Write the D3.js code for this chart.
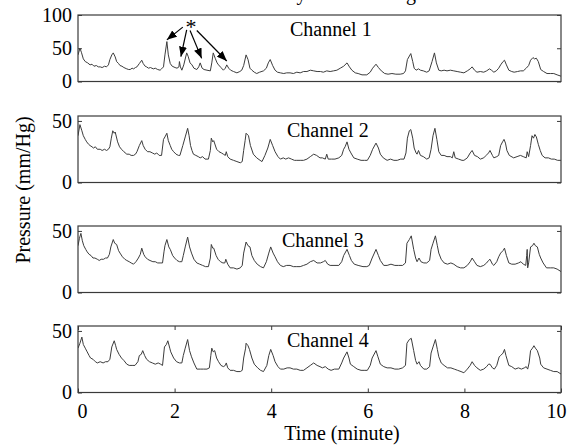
<!DOCTYPE html>
<html><head><meta charset="utf-8">
<script src="https://cdn.jsdelivr.net/npm/d3@7"></script>
<style>body{margin:0;background:#fff} svg{display:block}</style>
</head><body>
<svg id="chart" width="576" height="446"></svg>
<script>
// ---------------- data (time in minutes, pressure in mm/Hg) ----------------
const channelNames = ["Channel 1", "Channel 2", "Channel 3", "Channel 4"];

const channel1 = [[0.00,40],[0.04,50],[0.07,44],[0.11,34],[0.15,30],[0.20,28],[0.25,25],[0.29,26],[0.33,23],[0.38,24],[0.42,22],[0.46,22],[0.50,21],[0.55,23],[0.59,22],[0.63,25],[0.66,33],[0.70,40],[0.73,43],[0.77,37],[0.80,30],[0.84,27],[0.87,24],[0.91,23],[0.95,21],[1.01,19],[1.05,18],[1.08,18],[1.12,20],[1.15,19],[1.19,21],[1.22,22],[1.27,27],[1.32,32],[1.35,27],[1.39,23],[1.42,22],[1.46,20],[1.50,21],[1.56,19],[1.60,20],[1.65,18],[1.70,17],[1.73,19],[1.77,22],[1.80,40],[1.84,60],[1.87,40],[1.91,27],[1.95,23],[2.01,21],[2.05,20],[2.09,22],[2.10,30],[2.12,22],[2.15,17],[2.19,25],[2.25,43],[2.28,38],[2.32,28],[2.36,25],[2.40,20],[2.46,18],[2.50,22],[2.53,28],[2.57,20],[2.61,18],[2.67,17],[2.74,16],[2.77,28],[2.80,43],[2.84,35],[2.88,28],[2.91,25],[2.96,21],[3.01,17],[3.05,20],[3.08,25],[3.12,20],[3.16,17],[3.22,15],[3.29,13],[3.35,15],[3.39,17],[3.43,24],[3.48,40],[3.52,33],[3.56,20],[3.60,17],[3.65,14],[3.70,12],[3.76,14],[3.84,16],[3.90,20],[3.94,28],[3.98,33],[4.03,24],[4.08,17],[4.13,14],[4.19,13],[4.26,12],[4.32,13],[4.39,13],[4.46,12],[4.53,14],[4.60,13],[4.67,15],[4.74,15],[4.81,17],[4.88,16],[4.95,15],[5.02,15],[5.08,14],[5.15,16],[5.22,15],[5.29,16],[5.36,17],[5.43,20],[5.50,23],[5.57,28],[5.62,22],[5.67,17],[5.74,13],[5.80,12],[5.88,10],[5.98,10],[6.05,14],[6.10,20],[6.17,26],[6.22,21],[6.28,16],[6.35,12],[6.42,11],[6.50,12],[6.58,11],[6.67,11],[6.74,12],[6.78,16],[6.82,33],[6.89,42],[6.93,30],[6.96,20],[7.00,17],[7.05,19],[7.09,17],[7.15,16],[7.22,14],[7.27,16],[7.33,30],[7.38,43],[7.42,28],[7.47,17],[7.52,16],[7.58,17],[7.64,16],[7.71,17],[7.78,16],[7.85,15],[7.92,14],[7.99,13],[8.06,16],[8.12,19],[8.16,22],[8.21,17],[8.26,14],[8.33,15],[8.40,14],[8.46,16],[8.52,19],[8.56,17],[8.61,14],[8.66,16],[8.71,20],[8.75,25],[8.80,30],[8.83,32],[8.87,25],[8.92,17],[8.98,15],[9.03,14],[9.10,15],[9.16,16],[9.22,16],[9.28,20],[9.33,24],[9.37,32],[9.42,36],[9.45,34],[9.49,35],[9.53,30],[9.58,18],[9.64,15],[9.71,12],[9.78,12],[9.85,12],[9.92,10],[10.0,8]];

const channel2 = [[0.00,38],[0.04,47],[0.08,42],[0.11,38],[0.15,35],[0.18,33],[0.22,31],[0.25,30],[0.29,29],[0.32,28],[0.36,29],[0.40,27],[0.46,27],[0.50,26],[0.55,27],[0.59,26],[0.63,27],[0.66,29],[0.69,36],[0.72,42],[0.75,40],[0.77,41],[0.82,33],[0.86,29],[0.90,27],[0.95,25],[1.01,23],[1.06,23],[1.10,22],[1.15,22],[1.19,23],[1.22,25],[1.27,30],[1.32,34],[1.35,30],[1.39,27],[1.44,25],[1.49,25],[1.54,24],[1.59,23],[1.63,24],[1.68,22],[1.73,22],[1.77,35],[1.80,37],[1.84,40],[1.87,34],[1.91,30],[1.94,27],[1.98,25],[2.03,23],[2.08,22],[2.11,22],[2.17,30],[2.22,37],[2.27,44],[2.30,38],[2.33,30],[2.36,26],[2.39,23],[2.44,22],[2.49,21],[2.53,20],[2.58,21],[2.63,19],[2.70,19],[2.74,26],[2.76,36],[2.79,33],[2.81,34],[2.87,27],[2.92,25],[2.97,24],[3.01,23],[3.05,22],[3.07,25],[3.10,21],[3.15,19],[3.22,18],[3.29,17],[3.36,16],[3.40,17],[3.43,26],[3.46,34],[3.48,40],[3.53,38],[3.57,30],[3.63,23],[3.70,20],[3.77,18],[3.81,17],[3.87,22],[3.93,28],[3.98,35],[4.03,30],[4.08,25],[4.14,21],[4.19,19],[4.25,20],[4.30,19],[4.36,20],[4.42,19],[4.48,18],[4.53,18],[4.60,18],[4.67,18],[4.74,19],[4.81,21],[4.88,23],[4.94,22],[5.01,20],[5.06,20],[5.12,19],[5.15,23],[5.18,19],[5.25,19],[5.32,19],[5.40,20],[5.46,22],[5.50,27],[5.53,29],[5.57,33],[5.61,27],[5.65,24],[5.71,20],[5.78,19],[5.86,18],[5.93,18],[5.99,18],[6.05,22],[6.10,27],[6.17,32],[6.22,28],[6.26,23],[6.32,20],[6.40,18],[6.47,19],[6.54,18],[6.61,18],[6.68,19],[6.75,19],[6.79,24],[6.82,36],[6.86,42],[6.89,43],[6.93,36],[6.96,28],[7.00,24],[7.02,23],[7.05,26],[7.09,22],[7.15,21],[7.22,19],[7.27,20],[7.31,27],[7.35,38],[7.39,44],[7.43,35],[7.47,25],[7.52,22],[7.58,22],[7.64,21],[7.71,21],[7.75,20],[7.78,25],[7.81,20],[7.88,19],[7.95,18],[7.99,18],[8.06,20],[8.12,24],[8.16,26],[8.21,22],[8.27,21],[8.33,19],[8.40,20],[8.45,22],[8.50,24],[8.53,26],[8.58,22],[8.61,20],[8.67,21],[8.71,22],[8.75,30],[8.79,33],[8.82,35],[8.85,32],[8.88,26],[8.93,22],[9.02,20],[9.09,21],[9.16,22],[9.22,21],[9.28,20],[9.30,25],[9.33,21],[9.37,30],[9.40,38],[9.43,36],[9.46,39],[9.49,37],[9.53,31],[9.57,26],[9.61,22],[9.67,20],[9.74,20],[9.80,19],[9.86,19],[9.93,18],[10.0,18]];

const channel3 = [[0.00,38],[0.03,44],[0.06,48],[0.09,42],[0.12,38],[0.16,35],[0.19,33],[0.23,31],[0.27,30],[0.31,28],[0.35,28],[0.40,27],[0.44,26],[0.48,27],[0.53,27],[0.57,28],[0.61,28],[0.65,31],[0.68,37],[0.73,43],[0.76,40],[0.80,39],[0.84,34],[0.87,32],[0.92,29],[0.97,27],[1.01,26],[1.06,25],[1.10,24],[1.15,23],[1.20,25],[1.25,28],[1.29,31],[1.32,36],[1.36,31],[1.39,29],[1.44,27],[1.49,26],[1.55,25],[1.60,25],[1.65,24],[1.70,24],[1.75,24],[1.78,33],[1.80,38],[1.84,43],[1.88,37],[1.91,35],[1.96,30],[2.00,28],[2.05,26],[2.10,25],[2.15,25],[2.18,30],[2.22,37],[2.27,45],[2.31,37],[2.35,32],[2.40,27],[2.46,24],[2.52,23],[2.58,22],[2.64,21],[2.70,21],[2.74,28],[2.76,39],[2.79,36],[2.81,36],[2.86,30],[2.90,27],[2.95,25],[3.00,24],[3.04,24],[3.06,27],[3.10,23],[3.15,20],[3.22,20],[3.29,19],[3.36,20],[3.40,22],[3.43,32],[3.48,41],[3.52,38],[3.56,37],[3.60,30],[3.65,26],[3.71,23],[3.78,21],[3.84,20],[3.90,25],[3.95,32],[3.99,37],[4.04,32],[4.08,29],[4.13,25],[4.19,22],[4.25,21],[4.32,22],[4.39,22],[4.46,21],[4.53,21],[4.60,21],[4.67,22],[4.74,23],[4.81,25],[4.88,26],[4.95,24],[5.02,24],[5.08,25],[5.12,26],[5.17,23],[5.22,22],[5.30,22],[5.40,22],[5.46,25],[5.50,30],[5.57,35],[5.62,30],[5.66,26],[5.72,23],[5.80,22],[5.90,21],[5.98,21],[6.03,22],[6.09,28],[6.17,35],[6.22,30],[6.26,26],[6.33,22],[6.40,22],[6.48,23],[6.56,22],[6.64,22],[6.72,22],[6.78,24],[6.81,40],[6.86,43],[6.90,46],[6.95,35],[6.99,28],[7.02,25],[7.06,28],[7.10,25],[7.16,24],[7.22,24],[7.28,26],[7.31,35],[7.35,40],[7.40,46],[7.44,38],[7.47,32],[7.52,27],[7.58,24],[7.65,23],[7.72,24],[7.78,23],[7.85,21],[7.92,20],[7.99,20],[8.06,22],[8.12,25],[8.16,28],[8.21,25],[8.26,22],[8.33,21],[8.40,22],[8.46,24],[8.50,26],[8.53,27],[8.58,23],[8.61,22],[8.67,25],[8.71,29],[8.75,32],[8.80,34],[8.83,36],[8.87,30],[8.92,24],[8.98,23],[9.05,23],[9.12,24],[9.17,25],[9.22,23],[9.27,22],[9.29,30],[9.30,35],[9.31,20],[9.33,24],[9.37,37],[9.41,38],[9.44,40],[9.47,38],[9.51,37],[9.55,31],[9.58,28],[9.63,24],[9.70,20],[9.78,20],[9.85,20],[9.92,19],[10.0,17]];

const channel4 = [[0.00,36],[0.04,40],[0.08,45],[0.11,39],[0.15,36],[0.19,33],[0.23,30],[0.26,28],[0.31,27],[0.36,25],[0.40,24],[0.46,25],[0.52,24],[0.57,25],[0.62,25],[0.66,27],[0.70,37],[0.75,42],[0.78,38],[0.80,35],[0.85,31],[0.90,28],[0.95,26],[1.01,23],[1.06,22],[1.12,22],[1.18,22],[1.24,25],[1.27,30],[1.31,31],[1.34,34],[1.38,30],[1.42,27],[1.48,25],[1.54,24],[1.60,23],[1.66,24],[1.71,23],[1.75,22],[1.79,37],[1.83,39],[1.86,42],[1.90,36],[1.92,33],[1.98,28],[2.04,25],[2.10,24],[2.15,24],[2.18,30],[2.22,36],[2.27,43],[2.31,34],[2.35,29],[2.40,24],[2.46,19],[2.53,19],[2.60,19],[2.67,19],[2.72,20],[2.75,30],[2.77,36],[2.80,33],[2.83,34],[2.87,28],[2.91,25],[2.96,22],[3.01,21],[3.05,22],[3.07,24],[3.10,20],[3.15,18],[3.22,18],[3.29,17],[3.36,17],[3.40,18],[3.43,28],[3.47,36],[3.48,40],[3.52,38],[3.55,35],[3.60,28],[3.65,23],[3.72,20],[3.78,18],[3.84,17],[3.91,22],[3.95,30],[3.99,35],[4.04,30],[4.08,25],[4.14,21],[4.19,19],[4.26,19],[4.33,20],[4.39,20],[4.46,19],[4.53,19],[4.60,18],[4.67,18],[4.74,20],[4.81,22],[4.88,24],[4.95,22],[5.01,21],[5.06,20],[5.12,21],[5.18,19],[5.24,18],[5.31,19],[5.40,19],[5.46,24],[5.50,28],[5.57,33],[5.61,28],[5.64,23],[5.71,21],[5.78,19],[5.86,18],[5.94,18],[5.99,18],[6.05,22],[6.09,28],[6.17,34],[6.21,29],[6.26,23],[6.33,21],[6.40,20],[6.48,20],[6.56,19],[6.64,19],[6.72,20],[6.78,22],[6.81,40],[6.86,43],[6.90,44],[6.95,34],[6.99,26],[7.02,23],[7.06,25],[7.09,22],[7.16,19],[7.22,19],[7.28,21],[7.31,32],[7.35,37],[7.40,43],[7.44,35],[7.47,29],[7.52,24],[7.58,22],[7.65,20],[7.72,20],[7.79,19],[7.86,18],[7.93,17],[7.99,16],[8.06,19],[8.12,22],[8.16,25],[8.21,22],[8.26,20],[8.33,18],[8.40,19],[8.46,21],[8.50,23],[8.53,23],[8.58,20],[8.62,19],[8.67,22],[8.72,29],[8.75,30],[8.80,32],[8.83,35],[8.86,30],[8.92,22],[8.98,21],[9.05,19],[9.12,20],[9.18,19],[9.24,20],[9.28,21],[9.31,19],[9.34,24],[9.37,34],[9.41,36],[9.44,38],[9.47,36],[9.51,34],[9.56,28],[9.58,23],[9.64,20],[9.71,19],[9.78,18],[9.85,17],[9.92,17],[10.0,15]];

const yDomains = [[0, 100], [0, 54], [0, 54], [0, 54]];
const yTickValues = [[0, 50, 100], [0, 50], [0, 50], [0, 50]];
const xTickValues = [0, 2, 4, 6, 8, 10];
const xLabel = "Time (minute)";
const yLabel = "Pressure (mm/Hg)";
const titleText = "Colonic activity in the resting state";
// annotation on channel 1 (time, pressure)
const asteriskPos = [2.34, 71];
const arrowFrom = [[2.17, 81.8], [2.25, 77.7], [2.32, 76.7], [2.46, 76.7]];
const arrowTo   = [[1.84, 62.6], [2.13, 37.3], [2.56, 34.8], [3.08, 30.8]];

// ---------------- layout ----------------
const channels = [channel1, channel2, channel3, channel4];
const W = 576, H = 446;
const left = 78, right = 561;
const panelTops = [15, 116, 226, 326];
const panelH = 66.5;
const labelX = [290, 287, 282, 287];
const font = "'Liberation Serif','Times New Roman',serif";
const lineColor = "#3c3c3c";
const boxColor = "#3a3a3a";

const svg = d3.select("#chart");
svg.append("rect").attr("width", W).attr("height", H).attr("fill", "#fff");

const defs = svg.append("defs");
defs.append("marker").attr("id", "arrowhead")
  .attr("viewBox", "0 0 10 8").attr("refX", 10).attr("refY", 4)
  .attr("markerWidth", 10).attr("markerHeight", 8)
  .attr("markerUnits", "userSpaceOnUse").attr("orient", "auto")
  .append("path").attr("d", "M0,0 L10,4 L0,8 Z").attr("fill", "#000");

const x = d3.scaleLinear().domain([0, 10]).range([left, right]);

// title (mostly cropped above the top edge, as in the reference)
svg.append("text").attr("x", 318).attr("y", 0)
  .attr("text-anchor", "middle").attr("font-family", font).attr("font-size", 20)
  .text(titleText);

channels.forEach((data, i) => {
  const top = panelTops[i], bottom = top + panelH;
  const y = d3.scaleLinear().domain(yDomains[i]).range([bottom, top]);
  const g = svg.append("g");

  defs.append("clipPath").attr("id", "clip" + i)
    .append("rect").attr("x", left).attr("y", top).attr("width", right - left).attr("height", panelH);

  const line = d3.line().x(d => x(d[0])).y(d => y(d[1]));
  g.append("path").datum(data).attr("d", line)
    .attr("fill", "none").attr("stroke", lineColor).attr("stroke-width", 1)
    .attr("stroke-linejoin", "round").attr("clip-path", `url(#clip${i})`);

  // y axes (inward ticks)
  const yl = g.append("g").attr("transform", `translate(${left},0)`)
    .call(d3.axisLeft(y).tickValues(yTickValues[i]).tickSize(-4).tickPadding(6));
  const yr = g.append("g").attr("transform", `translate(${right},0)`)
    .call(d3.axisRight(y).tickValues(yTickValues[i]).tickSize(-4).tickFormat(""));
  [yl, yr].forEach(a => {
    a.select(".domain").remove();
    a.selectAll("line").attr("stroke", boxColor);
    a.selectAll("text").attr("font-family", font).attr("font-size", 20).attr("fill", "#000");
  });

  if (i === channels.length - 1) {
    const xb = g.append("g").attr("transform", `translate(0,${bottom})`)
      .call(d3.axisBottom(x).tickValues(xTickValues).tickSize(-4).tickPadding(11));
    const xt = g.append("g").attr("transform", `translate(0,${top})`)
      .call(d3.axisTop(x).tickValues(xTickValues).tickSize(-4).tickFormat(""));
    [xb, xt].forEach(a => {
      a.select(".domain").remove();
      a.selectAll("line").attr("stroke", boxColor);
    });
    xb.selectAll("text").attr("font-family", font).attr("font-size", 20).attr("fill", "#000")
      .attr("dx", (d, k) => k === 0 ? 4 : (k === xTickValues.length - 1 ? -5 : 0));
  }

  // frame
  g.append("rect").attr("x", left).attr("y", top).attr("width", right - left).attr("height", panelH)
    .attr("fill", "none").attr("stroke", boxColor).attr("stroke-width", 1.2);

  g.append("text").attr("x", labelX[i]).attr("y", top + 20.5)
    .attr("font-family", font).attr("font-size", 20).attr("fill", "#000")
    .text(channelNames[i]);

  if (i === 0) {
    g.append("text").attr("x", x(asteriskPos[0])).attr("y", y(asteriskPos[1]))
      .attr("text-anchor", "middle").attr("font-family", font).attr("font-size", 22)
      .text("*");
    arrowFrom.forEach((f, k) => {
      const t = arrowTo[k];
      g.append("line")
        .attr("x1", x(f[0])).attr("y1", y(f[1]))
        .attr("x2", x(t[0])).attr("y2", y(t[1]))
        .attr("stroke", "#000").attr("stroke-width", 1.2)
        .attr("marker-end", "url(#arrowhead)");
    });
  }
});

// axis titles
svg.append("text").attr("transform", "translate(30,190) rotate(-90)")
  .attr("text-anchor", "middle").attr("font-family", font).attr("font-size", 20)
  .text(yLabel);
svg.append("text").attr("x", 342).attr("y", 440)
  .attr("text-anchor", "middle").attr("font-family", font).attr("font-size", 20)
  .text(xLabel);
</script>
</body></html>
